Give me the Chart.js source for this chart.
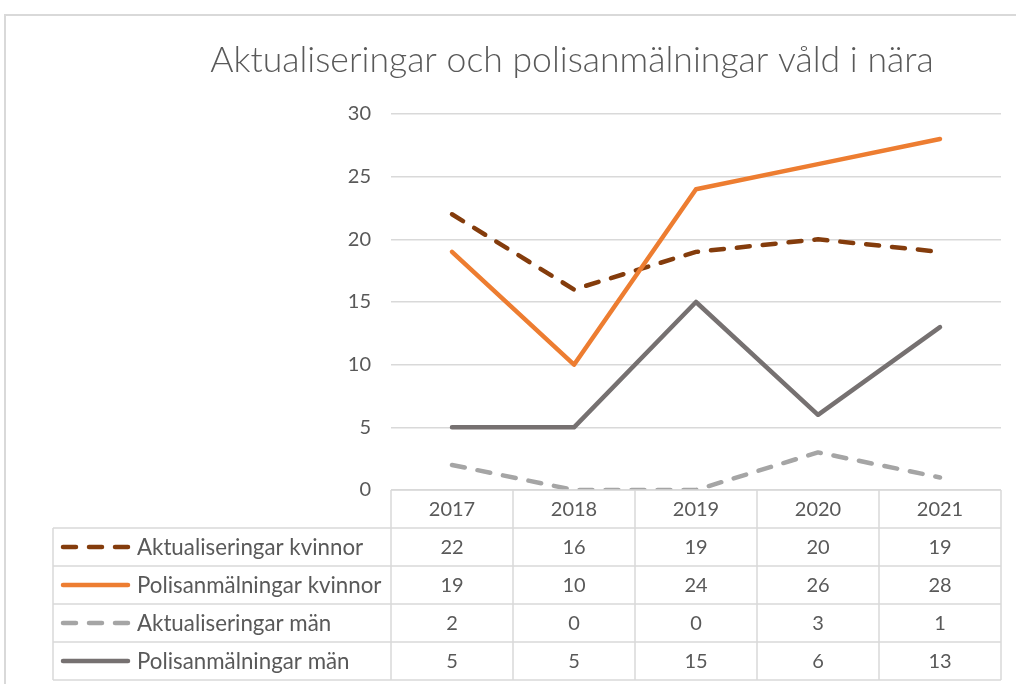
<!DOCTYPE html>
<html>
<head>
<meta charset="utf-8">
<script src="https://cdn.jsdelivr.net/npm/chart.js@4.4.1/dist/chart.umd.min.js"></script>
<style>
  html, body { margin: 0; padding: 0; background: #fff; }
  #wrap { width: 1016px; height: 684px; }
</style>
</head>
<body>
<div id="wrap"><canvas id="myChart" width="1016" height="684"></canvas></div>
<script>
// data
var years = ['2017', '2018', '2019', '2020', '2021'];
var seriesNames = ['Aktualiseringar kvinnor', 'Polisanmälningar kvinnor', 'Aktualiseringar män', 'Polisanmälningar män'];
var aktKvinnor = [22, 16, 19, 20, 19];
var polKvinnor = [19, 10, 24, 26, 28];
var aktMan = [2, 0, 0, 3, 1];
var polMan = [5, 5, 15, 6, 13];
var yTicks = [0, 5, 10, 15, 20, 25, 30];

var titel = 'Aktualiseringar och polisanmälningar våld i nära';
var textFarg = '#595959';
var linjeFarg = '#D9D9D9';

var farger = ['#843C0C', '#ED7D31', '#A5A5A5', '#767171'];
var streckad = [true, false, true, false];
var serier = [aktKvinnor, polKvinnor, aktMan, polMan];

var datasets = [];
serier.forEach(function (s, i) {
    datasets.push({
        label: seriesNames[i],
        data: s,
        borderColor: farger[i],
        backgroundColor: farger[i],
        borderWidth: 4.5,
        borderDash: streckad[i] ? [13, 13] : [],
        borderCapStyle: 'round',
        borderJoinStyle: 'round',
        pointRadius: 0,
        pointHoverRadius: 0,
        tension: 0,
        fill: false,
        order: 4 - i
    });
});

// white background + frame + title
var ramPlugin = {
    id: 'ram',
    beforeDraw: function (chart) {
        var ctx = chart.ctx;
        ctx.save();
        ctx.fillStyle = '#fff';
        ctx.fillRect(0, 0, chart.width, chart.height);
        ctx.strokeStyle = linjeFarg;
        ctx.lineWidth = 2;
        ctx.strokeRect(5, 15, chart.width + 20, chart.height + 20);
        ctx.fillStyle = textFarg;
        ctx.font = '300 35.6px Lato';
        ctx.textAlign = 'center';
        ctx.textBaseline = 'middle';
        ctx.fillText(titel, 572, 61);
        ctx.restore();
    }
};

// data table under the plot, built from the same arrays
var tabellPlugin = {
    id: 'tabell',
    afterDraw: function (chart) {
        var ctx = chart.ctx;
        var x = chart.scales.x;
        var area = chart.chartArea;
        var band = (area.right - area.left) / years.length;
        var topp = area.bottom;
        var radH = 38;
        var vanster = 53;
        var botten = topp + radH * (serier.length + 1);

        ctx.save();
        ctx.strokeStyle = linjeFarg;
        ctx.lineWidth = 1.5;

        // horizontal lines
        ctx.beginPath();
        ctx.moveTo(area.left, topp);
        ctx.lineTo(area.right, topp);
        for (var r = 1; r <= serier.length + 1; r++) {
            ctx.moveTo(vanster, topp + r * radH);
            ctx.lineTo(area.right, topp + r * radH);
        }
        // vertical lines
        for (var c = 0; c <= years.length; c++) {
            var vx = area.left + c * band;
            ctx.moveTo(vx, topp);
            ctx.lineTo(vx, botten);
        }
        ctx.moveTo(vanster, topp + radH);
        ctx.lineTo(vanster, botten);
        ctx.stroke();

        ctx.fillStyle = textFarg;
        ctx.font = '20px Lato';
        ctx.textAlign = 'center';
        ctx.textBaseline = 'middle';
        years.forEach(function (y, i) {
            ctx.fillText(y, x.getPixelForValue(i), topp + radH / 2 + 1);
        });

        serier.forEach(function (s, r) {
            var cy = topp + (r + 1) * radH + radH / 2 + 1;
            ctx.font = '20px Lato';
            s.forEach(function (v, i) {
                ctx.fillText(String(v), x.getPixelForValue(i), cy);
            });

            // legend key
            ctx.save();
            ctx.strokeStyle = farger[r];
            ctx.lineWidth = 4.5;
            ctx.lineCap = 'round';
            ctx.setLineDash(streckad[r] ? [13, 13] : []);
            ctx.beginPath();
            ctx.moveTo(63, cy - 1);
            ctx.lineTo(128, cy - 1);
            ctx.stroke();
            ctx.restore();

            ctx.textAlign = 'left';
            ctx.font = '22.3px Lato';
            ctx.fillText(seriesNames[r], 137, cy);
            ctx.textAlign = 'center';
        });
        ctx.restore();
    }
};

var ctx = document.getElementById('myChart');
var myChart = new Chart(ctx, {
    type: 'line',
    data: {
        labels: years,
        datasets: datasets
    },
    options: {
        responsive: false,
        devicePixelRatio: 1,
        animation: false,
        layout: {
            padding: { left: 330, right: 15, top: 114, bottom: 194 }
        },
        scales: {
            x: {
                display: false,
                offset: true
            },
            y: {
                min: 0,
                max: 30,
                afterBuildTicks: function (scale) {
                    scale.ticks = yTicks.map(function (v) { return { value: v }; });
                },
                afterFit: function (scale) {
                    scale.width = 61;
                },
                border: { display: false },
                grid: {
                    color: linjeFarg,
                    lineWidth: 1.5,
                    drawTicks: false
                },
                ticks: {
                    color: textFarg,
                    font: { family: 'Lato', size: 20 },
                    padding: 20
                }
            }
        },
        plugins: {
            legend: { display: false },
            tooltip: { enabled: false },
            title: { display: false }
        }
    },
    plugins: [ramPlugin, tabellPlugin]
});
</script>
</body>
</html>
